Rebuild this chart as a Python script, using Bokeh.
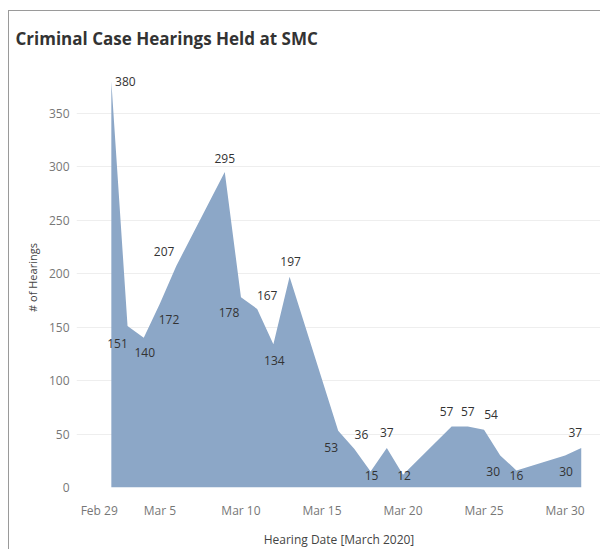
from datetime import date
from bokeh.plotting import figure
from bokeh.models import ColumnDataSource, LabelSet, FixedTicker, Range1d, InlineStyleSheet
from bokeh.core.properties import value
from bokeh.embed import file_html
from bokeh.resources import INLINE

# ---- data ----
DATES = ["2020-03-02", "2020-03-03", "2020-03-04", "2020-03-05", "2020-03-06",
         "2020-03-09", "2020-03-10", "2020-03-11", "2020-03-12", "2020-03-13",
         "2020-03-16", "2020-03-17", "2020-03-18", "2020-03-19", "2020-03-20",
         "2020-03-23", "2020-03-24", "2020-03-25", "2020-03-26", "2020-03-27",
         "2020-03-30", "2020-03-31"]
HEARINGS = [380, 151, 140, 172, 207, 295, 178, 167, 134, 197,
            53, 36, 15, 37, 12, 57, 57, 54, 30, 16, 30, 37]
X_TICK_LABELS = ["Feb 29", "Mar 5", "Mar 10", "Mar 15", "Mar 20", "Mar 25", "Mar 30"]
X_TICK_DAYS = [1.25, 5, 10, 15, 20, 25, 30]   # first label sits inside the frame, as in the source
Y_TICKS = [0, 50, 100, 150, 200, 250, 300, 350]
TITLE = "Criminal Case Hearings Held at SMC"

# label placement (screen px, up = positive)
LABEL_DX = [14, -10, 1, 9, -12, 0, -12, 10, 1, 1, -7, 7, 1, 0, 1, -5, 0, 7, -7, 0, 1, -6]
LABEL_DY = [0, -17, -15, -16, 15, 14, -15, 13, -16, 15, -17, 15, -4, 15, -1, 15, 15, 15, -16, -5, -16, 15]

origin = date(2020, 2, 29)
days = [(date.fromisoformat(d) - origin).days for d in DATES]

src = ColumnDataSource(dict(
    x=days, y=HEARINGS, txt=[str(v) for v in HEARINGS],
    dx=LABEL_DX, dy=LABEL_DY,
))

FONT = "Open Sans"

p = figure(width=592, height=539, output_backend="svg", toolbar_location=None,
           x_range=Range1d(-0.15, 32.25), y_range=Range1d(0, 392.8),
           min_border_left=67, min_border_right=0, min_border_top=55, min_border_bottom=57,
           title=TITLE)
p.margin = (10, 0, 0, 8)
p.stylesheets = [InlineStyleSheet(css=":host { border-left: 1px solid #9a9a9a; border-top: 1px solid #9a9a9a; }")]

p.title.text_font = FONT
p.title.text_font_size = "17px"
p.title.text_font_style = "bold"
p.title.text_color = "#333333"
p.title.offset = -61
p.title.standoff = 31
p.title.vertical_align = "top"

p.varea(x="x", y1=0, y2="y", source=src, fill_color="#8CA7C7", fill_alpha=1.0)

labels = LabelSet(x="x", y="y", text="txt", source=src,
                  x_offset="dx", y_offset="dy",
                  text_align="center", text_baseline="middle",
                  text_font=value(FONT), text_font_size=value("12px"), text_color="#333333")
p.add_layout(labels)

p.outline_line_color = None
p.xgrid.grid_line_color = None
p.ygrid.grid_line_color = "#eeeeee"
p.ygrid.ticker = FixedTicker(ticks=Y_TICKS)

p.xaxis.ticker = FixedTicker(ticks=X_TICK_DAYS)
p.xaxis.major_label_overrides = {t: l for t, l in zip(X_TICK_DAYS, X_TICK_LABELS)}
p.yaxis.ticker = FixedTicker(ticks=Y_TICKS)

for ax in (p.xaxis[0], p.yaxis[0]):
    ax.axis_line_color = None
    ax.major_tick_line_color = None
    ax.minor_tick_line_color = None
    ax.major_tick_out = 0
    ax.major_tick_in = 0
    ax.minor_tick_out = 0
    ax.minor_tick_in = 0
    ax.major_label_text_font = FONT
    ax.major_label_text_font_size = "12px"
    ax.major_label_text_color = "#777777"
    ax.axis_label_text_font = FONT
    ax.axis_label_text_font_style = "normal"
    ax.axis_label_text_color = "#444444"

p.xaxis.axis_label = "Hearing Date [March 2020]"
p.xaxis.axis_label_text_font_size = "12px"
p.xaxis.major_label_standoff = 14
p.xaxis.axis_label_standoff = 9
p.yaxis.axis_label = "# of Hearings"
p.yaxis.axis_label_text_font_size = "11px"
p.yaxis.major_label_standoff = 7
p.yaxis.axis_label_standoff = 6

open("out.html", "w").write(file_html(p, INLINE))
